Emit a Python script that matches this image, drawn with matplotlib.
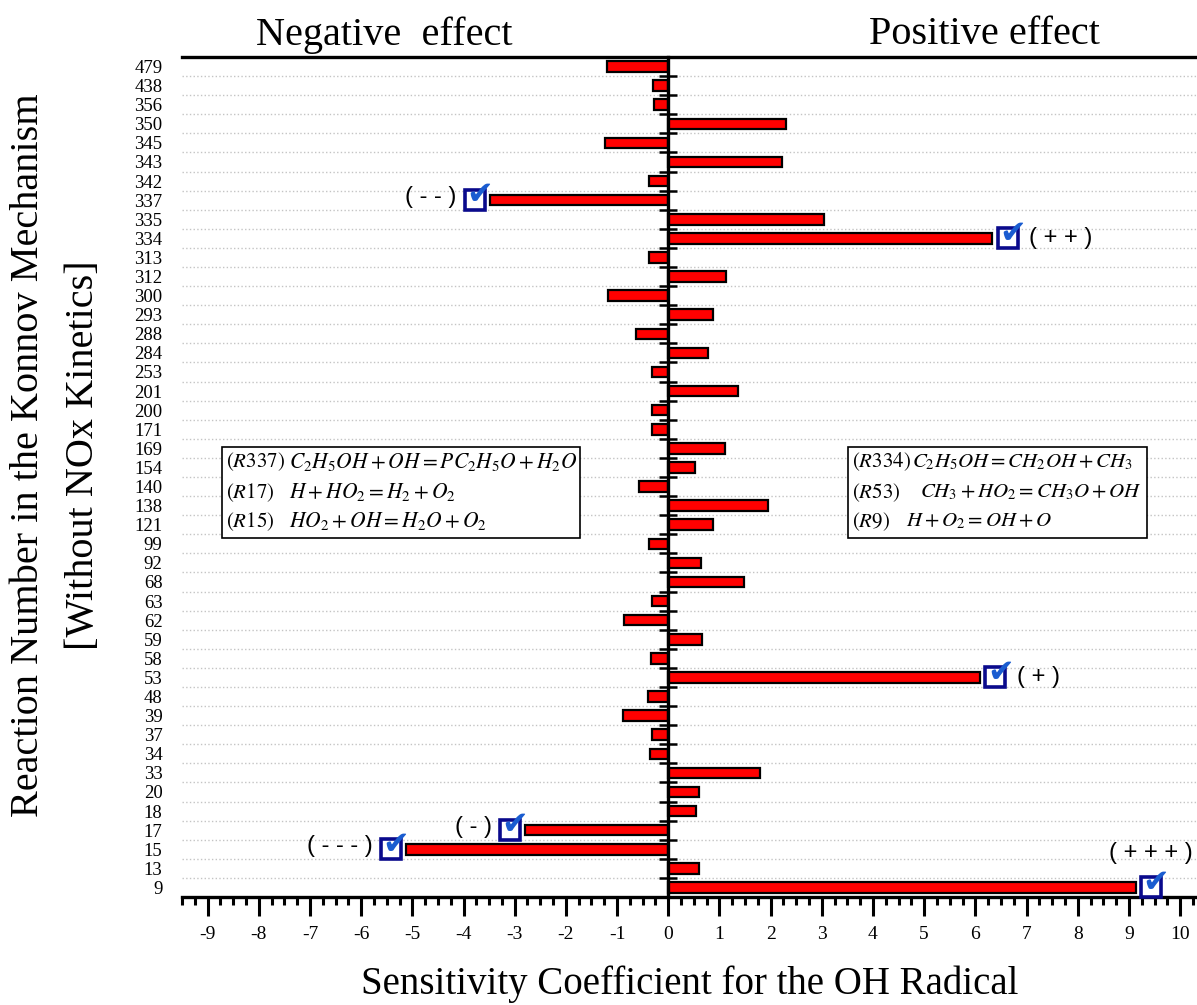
import numpy as np
import matplotlib.pyplot as plt
from matplotlib.patches import Rectangle
from matplotlib.ticker import MultipleLocator, FixedLocator, NullFormatter

plt.rcParams['font.family'] = ['Liberation Serif', 'DejaVu Serif']
plt.rcParams['mathtext.fontset'] = 'stix'

# reaction numbers, top to bottom, and their OH sensitivity coefficients
reactions = ['479', '438', '356', '350', '345', '343', '342', '337', '335', '334',
             '313', '312', '300', '293', '288', '284', '253', '201', '200', '171',
             '169', '154', '140', '138', '121', '99', '92', '68', '63', '62',
             '59', '58', '53', '48', '39', '37', '34', '33', '20', '18',
             '17', '15', '13', '9']
sens = [-1.20, -0.29, -0.27, 2.30, -1.23, 2.23, -0.38, -3.48, 3.05, 6.33,
        -0.37, 1.13, -1.17, 0.88, -0.63, 0.77, -0.32, 1.36, -0.31, -0.32,
        1.11, 0.53, -0.57, 1.94, 0.88, -0.38, 0.63, 1.48, -0.31, -0.86,
        0.66, -0.34, 6.09, -0.40, -0.89, -0.32, -0.35, 1.80, 0.61, 0.54,
        -2.79, -5.12, 0.61, 9.13]

# most important reactions and their rank labels
flagged = ['337', '334', '53', '17', '15', '9']
flag_text = ['( - - )', '( + + )', '( + )', '( - )', '( - - - )', '( + + + )']

neg_eqs = [r'$(R337)$', r'$(R17)$', r'$(R15)$']
neg_rhs = [r'$C_2H_5OH+OH=PC_2H_5O+H_2O$', r'$H+HO_2=H_2+O_2$', r'$HO_2+OH=H_2O+O_2$']
pos_eqs = [r'$(R334)$', r'$(R53)$', r'$(R9)$']
pos_rhs = [r'$C_2H_5OH=CH_2OH+CH_3$', r'$CH_3+HO_2=CH_3O+OH$', r'$H+O_2=OH+O$']

n = len(reactions)
ypos = np.arange(n)[::-1]

fig = plt.figure(figsize=(11.97, 10.05), dpi=100)
ax = fig.add_axes([182/1197, 1-897/1005, 1-182/1197, 840/1005])

ax.barh(ypos, sens, height=0.55, color='#ff0000', edgecolor='black', linewidth=1.6, zorder=3)

ax.set_xlim(-9.5, 10.33)
ax.set_ylim(-0.5, n - 0.5)

# spines: top and bottom thick, left one moved to zero
ax.spines['right'].set_visible(False)
ax.spines['left'].set_position(('data', 0))
for s in ['top', 'bottom', 'left']:
    ax.spines[s].set_linewidth(2.4)
ax.spines['left'].set_zorder(4)

ax.xaxis.set_major_locator(MultipleLocator(1))
ax.xaxis.set_minor_locator(MultipleLocator(0.25))
ax.tick_params(axis='x', which='major', direction='out', length=14, width=2.2,
               labelsize=14, pad=7)
ax.tick_params(axis='x', which='minor', direction='out', length=6, width=2.2)
ax.set_xticks(np.arange(-9, 11))
ax.set_xticklabels([str(v) for v in range(-9, 11)])

# y ticks on the zero line at the category boundaries
ax.yaxis.set_major_locator(FixedLocator(np.arange(n + 1) - 0.5))
ax.yaxis.set_major_formatter(NullFormatter())
ax.tick_params(axis='y', which='major', direction='inout', length=13, width=1.8)
ax.grid(axis='y', which='major', color='#c4c4c4', linestyle=':', linewidth=1.0, zorder=0)

# reaction numbers at the left edge
lab = ax.secondary_yaxis('left')
lab.set_yticks(ypos)
lab.set_yticklabels(reactions)
lab.tick_params(length=0, labelsize=13.5, pad=14)
lab.spines['left'].set_visible(False)

ax.set_xlabel('Sensitivity Coefficient for the OH Radical', fontsize=28, labelpad=16)
fig.text(56/1197, 1-455/1005,
         'Reaction Number in the Konnov Mechanism\n[Without NOx Kinetics]',
         rotation=90, ha='center', va='center', fontsize=29, linespacing=1.62)
fig.text(384/1197, 1-35/1005, 'Negative  effect', ha='center', va='center', fontsize=29)
fig.text(984/1197, 1-35/1005, 'Positive effect', ha='center', va='center', fontsize=29)

# check boxes with rank labels
for name, txt in zip(flagged, flag_text):
    i = reactions.index(name)
    v = sens[i]
    y = ypos[i]
    sgn = 1 if v > 0 else -1
    bx = v + sgn * 0.3
    ax.plot(bx, y, marker='s', markersize=14, mfc='white', mec='#0a0a8c', mew=2.6,
            zorder=5, clip_on=False)
    ax.text(bx + 0.1, y + 0.22, '\u2714', fontsize=23, color='#1a5cd0', ha='center',
            va='center', family='DejaVu Sans', zorder=6)
    if name == '9':
        ax.text(bx, y + 1.8, txt, fontsize=17, family='Liberation Sans',
                ha='center', va='center')
    elif sgn > 0:
        ax.text(bx + 0.42, y, txt, fontsize=17, family='Liberation Sans',
                ha='left', va='center')
    else:
        ax.text(bx - 0.36, y + 0.15, txt, fontsize=17, family='Liberation Sans',
                ha='right', va='center')

# reaction boxes
def reaction_box(x0, x1, xeq, labels, rhs, shifts, eq_size):
    y_top, y_bot = 23.05, 18.33
    ax.add_patch(Rectangle((x0, y_bot), x1 - x0, y_top - y_bot, facecolor='white',
                           edgecolor='black', linewidth=1.2, zorder=4))
    rows = [22.28, 20.7, 19.17]
    for yy, l, r, dx in zip(rows, labels, rhs, shifts):
        ax.text(x0 + 0.06, yy, l, fontsize=15, ha='left', va='center', zorder=5)
        ax.text(xeq + dx, yy, r, fontsize=eq_size, ha='left', va='center', zorder=5)

reaction_box(-8.71, -1.72, -7.40, neg_eqs, neg_rhs, [0, 0, 0], 15.5)
reaction_box(3.52, 9.36, 4.77, pos_eqs, pos_rhs, [0, 0.15, -0.12], 15)

fig.savefig('out.png', dpi=100)
